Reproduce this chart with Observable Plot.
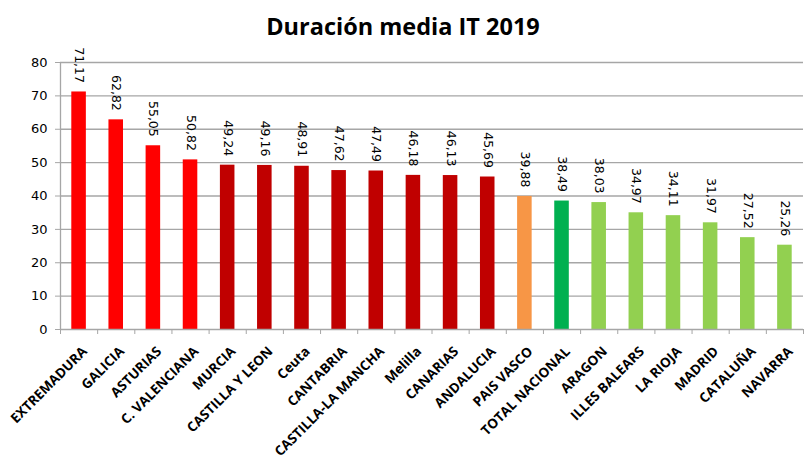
<!DOCTYPE html>
<html>
<head>
<meta charset="utf-8">
<script src="https://cdn.jsdelivr.net/npm/d3@7"></script>
<script src="https://cdn.jsdelivr.net/npm/@observablehq/plot@0.6"></script>
<style>
  html, body { margin: 0; padding: 0; background: #fff; }
  #title { height: 44px; width: 806px; text-align: center; font-family: "Open Sans", sans-serif; font-weight: 700; font-size: 23.5px; line-height: 52px; color: #000; overflow: hidden; }
  #chart svg { overflow: visible; }
</style>
</head>
<body>
<div id="title">Duración media IT 2019</div>
<div id="chart"></div>
<script>
const regions = ["EXTREMADURA","GALICIA","ASTURIAS","C. VALENCIANA","MURCIA","CASTILLA Y LEON","Ceuta","CANTABRIA","CASTILLA-LA MANCHA","Melilla","CANARIAS","ANDALUCIA","PAIS VASCO","TOTAL NACIONAL","ARAGON","ILLES BALEARS","LA RIOJA","MADRID","CATALUÑA","NAVARRA"];
const values = [71.17,62.82,55.05,50.82,49.24,49.16,48.91,47.62,47.49,46.18,46.13,45.69,39.88,38.49,38.03,34.97,34.11,31.97,27.52,25.26];
const groups = ["a","a","a","a","b","b","b","b","b","b","b","b","c","d","e","e","e","e","e","e"];
const groupColors = {a: "#FF0000", b: "#C00000", c: "#F79646", d: "#00B050", e: "#92D050"};
const yTicks = [0,10,20,30,40,50,60,70,80];

const data = regions.map((r, i) => ({region: r, value: values[i], group: groups[i], i}));
const fmt = v => v.toFixed(2).replace(".", ",");

const plot = Plot.plot({
  width: 806,
  height: 414,
  marginTop: 18,
  marginBottom: 129,
  marginLeft: 60,
  marginRight: 3,
  style: {fontFamily: "DejaVu Sans", fontSize: "12.5px", color: "#000", background: "#fff"},
  x: {domain: [0, regions.length], axis: null},
  y: {domain: [0, 80], axis: null},
  marks: [
    Plot.ruleY(yTicks.slice(1), {stroke: "#a6a6a6", strokeWidth: 1.3, strokeOpacity: 1}),
    Plot.rectY(data, {x1: d => d.i, x2: d => d.i + 1, y: "value", fill: d => groupColors[d.group], insetLeft: 11.3, insetRight: 11.3}),
    Plot.ruleY([0], {stroke: "#a6a6a6", strokeWidth: 1.3}),
    Plot.ruleX([0], {y1: 0, y2: 80, stroke: "#a6a6a6", strokeWidth: 1.3}),
    Plot.axisY({ticks: yTicks, tickSize: 5, tickPadding: 8, stroke: "#a6a6a6", fontSize: 13, fill: "#000", label: null}),
    Plot.axisX({ticks: d3.range(regions.length + 1), tickSize: 5, tickFormat: () => "", stroke: "#a6a6a6", label: null}),
    Plot.text(data, {x: d => d.i + 0.5, y: "value", text: d => fmt(d.value), rotate: 90, textAnchor: "end", dy: -9, fontSize: 12.5, fill: "#000"}),
    Plot.text(data, {x: d => d.i + 0.5, y: 0, text: "region", rotate: -45, textAnchor: "end", lineAnchor: "top", dx: 2, dy: 16, fontFamily: "Open Sans", fontWeight: 700, fontSize: 13.5, fill: "#000"})
  ]
});
document.getElementById("chart").appendChild(plot);
</script>
</body>
</html>
